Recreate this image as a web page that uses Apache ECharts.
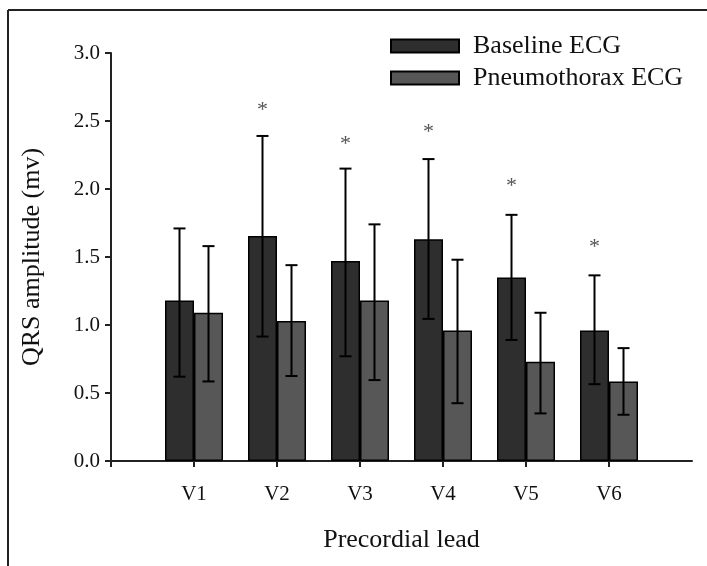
<!DOCTYPE html>
<html>
<head>
<meta charset="utf-8">
<script src="https://cdn.jsdelivr.net/npm/echarts@6/dist/echarts.min.js"></script>
<style>html,body{margin:0;padding:0;background:#fff}#c{width:707px;height:566px}</style>
</head>
<body>
<div id="c"></div>
<script>
var leads = ['V1', 'V2', 'V3', 'V4', 'V5', 'V6'];
var baselineMean = [1.18, 1.655, 1.47, 1.63, 1.35, 0.96];
var baselineUpper = [1.71, 2.39, 2.15, 2.22, 1.81, 1.365];
var baselineLower = [0.62, 0.915, 0.77, 1.045, 0.89, 0.565];
var pneumoMean = [1.09, 1.03, 1.18, 0.96, 0.73, 0.585];
var pneumoUpper = [1.58, 1.44, 1.74, 1.48, 1.09, 0.83];
var pneumoLower = [0.585, 0.625, 0.595, 0.425, 0.35, 0.34];
var starValues = [null, 2.58, 2.33, 2.42, 2.02, 1.57];
var yTicks = [0, 0.5, 1.0, 1.5, 2.0, 2.5, 3.0];

var FONT = '"Liberation Serif", "Times New Roman", serif';
var BAR_W = 29;

// padded categories: an empty slot at each end (ticks sit on category points)
var cats = [''].concat(leads, ['']);
function pad(arr) { return [null].concat(arr, [null]); }

function errData(mean, up, lo) {
  return leads.map(function (l, i) { return [i + 1, up[i], lo[i]]; });
}

function errRender(offset) {
  return function (params, api) {
    var x = api.value(0);
    var top = api.coord([x, api.value(1)]);
    var bot = api.coord([x, api.value(2)]);
    var cx = top[0] + offset;
    var cap = 6;
    var style = { stroke: '#000', lineWidth: 2 };
    return {
      type: 'group',
      children: [
        { type: 'line', shape: { x1: cx, y1: top[1], x2: cx, y2: bot[1] }, style: style },
        { type: 'line', shape: { x1: cx - cap, y1: top[1], x2: cx + cap, y2: top[1] }, style: style },
        { type: 'line', shape: { x1: cx - cap, y1: bot[1], x2: cx + cap, y2: bot[1] }, style: style }
      ]
    };
  };
}

var starData = [];
starValues.forEach(function (v, i) { if (v != null) starData.push([i + 1, v]); });

var chart = echarts.init(document.getElementById('c'), null, { renderer: 'canvas' });
chart.setOption({
  animation: false,
  backgroundColor: '#fff',
  textStyle: { fontFamily: FONT },
  graphic: [
    { type: 'line', shape: { x1: 8, y1: 10, x2: 707, y2: 10 }, style: { stroke: '#222', lineWidth: 2 } },
    { type: 'line', shape: { x1: 8, y1: 10, x2: 8, y2: 566 }, style: { stroke: '#222', lineWidth: 2 } }
  ],
  grid: { left: 111, right: 15, top: 53, bottom: 105 },
  legend: {
    orient: 'vertical',
    left: 385,
    top: 28,
    itemWidth: 68,
    itemHeight: 13,
    itemGap: 6,
    icon: 'rect',
    data: ['Baseline ECG', 'Pneumothorax ECG'],
    textStyle: { fontFamily: FONT, fontSize: 26, color: '#111', padding: [0, 0, 0, 9] }
  },
  xAxis: {
    type: 'category',
    data: cats,
    boundaryGap: false,
    axisLine: { lineStyle: { color: '#222', width: 2 } },
    axisTick: {
      length: 6, inside: false,
      lineStyle: { color: '#222', width: 2 },
      interval: function (idx) { return idx < cats.length - 1; }
    },
    axisLabel: { fontFamily: FONT, fontSize: 21, color: '#111', margin: 23, interval: 0 },
    name: 'Precordial lead',
    nameLocation: 'middle',
    nameGap: 66,
    nameTextStyle: { fontFamily: FONT, fontSize: 26, color: '#111' }
  },
  yAxis: {
    type: 'value',
    min: 0, max: 3, interval: 0.5,
    splitLine: { show: false },
    axisLine: { show: true, lineStyle: { color: '#222', width: 2 } },
    axisTick: { show: true, length: 6, lineStyle: { color: '#222', width: 2 } },
    axisLabel: {
      fontFamily: FONT, fontSize: 21, color: '#111', margin: 11,
      formatter: function (v) { return v.toFixed(1); }
    },
    name: 'QRS amplitude (mv)',
    nameLocation: 'middle',
    nameGap: 66,
    nameRotate: 90,
    nameTextStyle: { fontFamily: FONT, fontSize: 26, color: '#111' }
  },
  series: [
    {
      name: 'Baseline ECG', type: 'bar', data: pad(baselineMean),
      barWidth: BAR_W, barGap: '0%',
      itemStyle: { color: '#2e2e2e', borderColor: '#000', borderWidth: 1.5 }
    },
    {
      name: 'Pneumothorax ECG', type: 'bar', data: pad(pneumoMean),
      barWidth: BAR_W, barGap: '0%',
      itemStyle: { color: '#575757', borderColor: '#000', borderWidth: 1.5 }
    },
    {
      type: 'custom', name: 'errBaseline', data: errData(baselineMean, baselineUpper, baselineLower),
      renderItem: errRender(-BAR_W / 2), z: 5, encode: { x: 0, y: [1, 2] }
    },
    {
      type: 'custom', name: 'errPneumo', data: errData(pneumoMean, pneumoUpper, pneumoLower),
      renderItem: errRender(BAR_W / 2), z: 5, encode: { x: 0, y: [1, 2] }
    },
    {
      type: 'custom', name: 'stars', data: starData, z: 6,
      encode: { x: 0, y: 1 },
      renderItem: function (params, api) {
        var p = api.coord([api.value(0), api.value(1)]);
        return {
          type: 'text',
          style: {
            x: p[0] - BAR_W / 2, y: p[1], text: '*',
            font: '22px ' + FONT, fill: '#555',
            align: 'center', verticalAlign: 'middle'
          }
        };
      }
    }
  ]
});
</script>
</body>
</html>
